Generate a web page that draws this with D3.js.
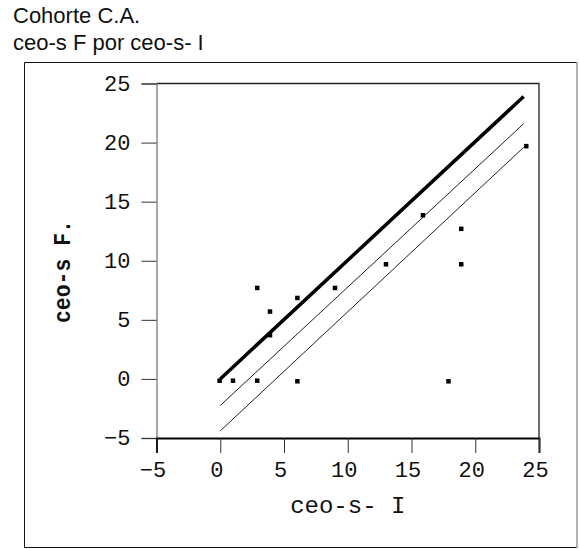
<!DOCTYPE html>
<html lang="es">
<head>
  <meta charset="UTF-8" />
  <title>Cohorte C.A.</title>
  <style>
  body {
    margin: 0;
    background: #fff;
  }
  .title {
    font-family: 'Liberation Sans', Arial, sans-serif;
    font-size: 22px;
    fill: #111;
  }
  .tick text {
    font-family: 'Liberation Mono', 'Courier New', monospace;
    font-size: 22px;
    fill: #111;
  }
  .axis-title {
    font-family: 'Liberation Mono', 'Courier New', monospace;
    font-size: 24px;
    fill: #111;
  }
  </style>
</head>
<body>
<svg id="chart" width="579" height="549"></svg>
<script src="https://cdn.jsdelivr.net/npm/d3@7"></script>
<script>
  // valores
  const ceoI = [-0.05, 1, 2.9, 6.05, 17.9, 2.9, 3.9, 3.9, 6.05, 9, 13, 15.9, 18.9, 18.9, 24];
  const ceoF = [-0.15, -0.15, -0.15, -0.2, -0.2, 7.7, 5.7, 3.7, 6.85, 7.7, 9.7, 13.85, 12.7, 9.7, 19.7];

  // rectas: identidad y dos paralelas por debajo
  const lineX = [0, 23.8];
  const lineMain = [0, 23.9];
  const lineMid = [-2.25, 21.6];
  const lineLow = [-4.4, 19.6];

  const ticks = [-5, 0, 5, 10, 15, 20, 25];

  const svg = d3.select("#chart");

  const x = d3.scaleLinear().domain([-5, 25]).range([156.5, 539]);
  const y = d3.scaleLinear().domain([-5, 25]).range([438, 83.5]);

  // marco exterior
  svg.append("path")
    .attr("d", "M577,62.5 H24.5 V547.5 H577")
    .attr("fill", "none")
    .attr("stroke", "#111")
    .attr("stroke-width", 1);
  svg.append("line")
    .attr("x1", 577).attr("x2", 577).attr("y1", 62).attr("y2", 548)
    .attr("stroke", "#999")
    .attr("stroke-width", 1.5);

  svg.append("text").attr("class", "title").attr("x", 13).attr("y", 23).text("Cohorte C.A.");
  svg.append("text").attr("class", "title").attr("x", 13).attr("y", 50).text("ceo-s F por ceo-s- I");

  // marco del gráfico (arriba y derecha)
  svg.append("path")
    .attr("d", `M${x(-5)},${y(25)} H${x(25)} V${y(-5)}`)
    .attr("fill", "none")
    .attr("stroke", "#222")
    .attr("stroke-width", 1.3);

  const yAxis = svg.append("g")
    .attr("transform", `translate(${x(-5)},0)`)
    .call(d3.axisLeft(y).tickValues(ticks).tickSize(15).tickPadding(11).tickFormat(d3.format("d")));
  yAxis.select(".domain").attr("stroke", "#777").attr("stroke-width", 1.3);
  yAxis.selectAll(".tick line").attr("stroke", "#333");

  const xAxis = svg.append("g")
    .attr("transform", `translate(0,${y(-5)})`)
    .call(d3.axisBottom(x).tickValues(ticks).tickSize(15).tickPadding(8).tickFormat(d3.format("d")));
  xAxis.select(".domain").attr("stroke", "#000").attr("stroke-width", 2);
  xAxis.selectAll(".tick line").attr("stroke", "#333");
  xAxis.selectAll(".tick text").attr("dx", -4);
  yAxis.selectAll(".tick text").attr("dy", "0.3em");

  svg.append("text")
    .attr("class", "axis-title")
    .attr("x", (x(-5) + x(25)) / 2)
    .attr("y", 513)
    .attr("text-anchor", "middle")
    .text("ceo-s- I");

  svg.append("text")
    .attr("class", "axis-title")
    .attr("transform", "translate(70,271.5) rotate(-90)")
    .attr("text-anchor", "middle")
    .attr("font-weight", "bold")
    .attr("font-size", 32)
    .attr("textLength", 103)
    .attr("lengthAdjust", "spacingAndGlyphs")
    .text("ceo-s F.");

  const line = d3.line().x(d => x(d[0])).y(d => y(d[1]));

  svg.append("path")
    .datum(lineX.map((v, i) => [v, lineMain[i]]))
    .attr("d", line)
    .attr("fill", "none")
    .attr("stroke", "#000")
    .attr("stroke-width", 3.5);

  [lineMid, lineLow].forEach(l => {
    svg.append("path")
      .datum(lineX.map((v, i) => [v, l[i]]))
      .attr("d", line)
      .attr("fill", "none")
      .attr("stroke", "#222")
      .attr("stroke-width", 1);
  });

  const s = 4.5;
  svg.selectAll(".pt")
    .data(ceoI.map((v, i) => [v, ceoF[i]]))
    .join("rect")
    .attr("class", "pt")
    .attr("x", d => x(d[0]) - s / 2)
    .attr("y", d => y(d[1]) - s / 2)
    .attr("width", s)
    .attr("height", s)
    .attr("fill", "#000");
</script>
</body>
</html>
